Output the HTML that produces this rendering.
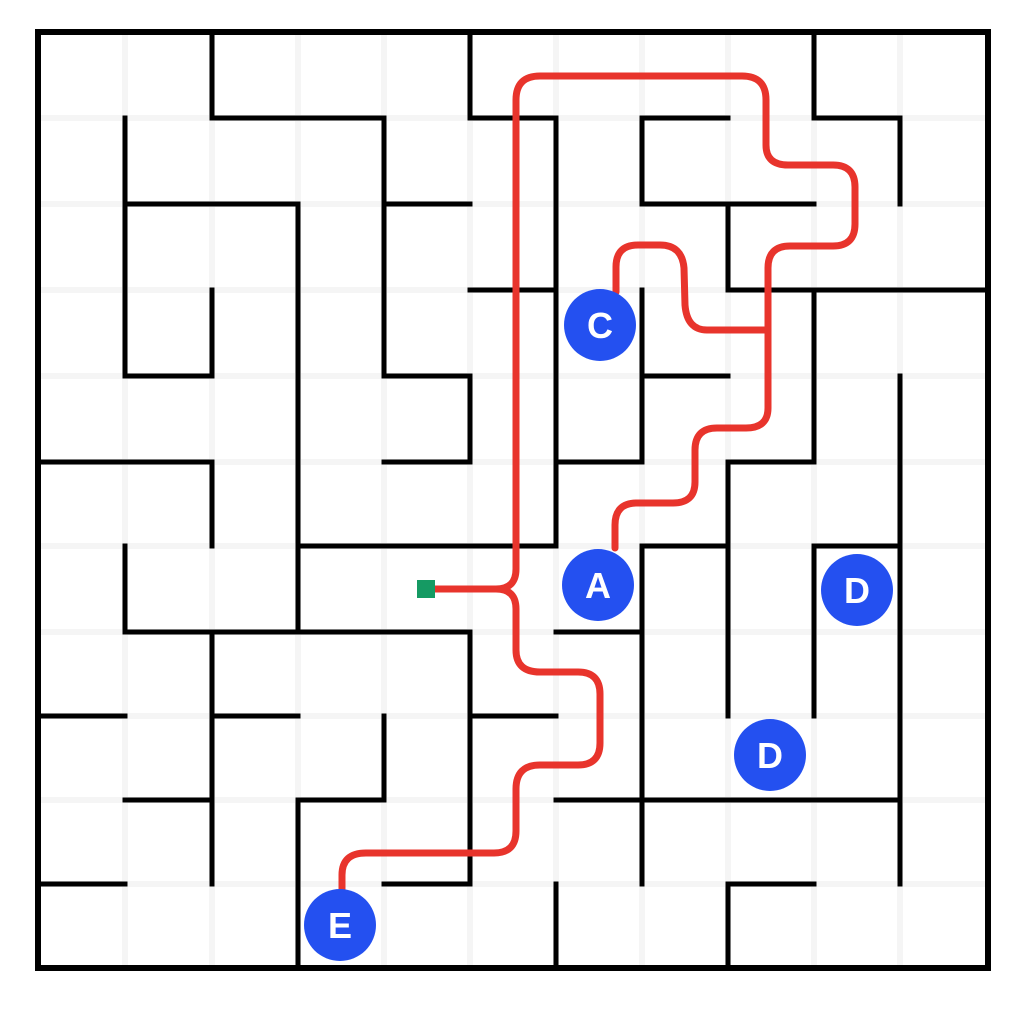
<!DOCTYPE html>
<html><head><meta charset="utf-8"><style>body{margin:0;background:#fff}svg{display:block}</style></head>
<body>
<svg id="maze" width="1024" height="1024" viewBox="0 0 1024 1024" xmlns="http://www.w3.org/2000/svg"></svg>
<script>
const colX=[38,125,212,298,384,470,556,642,728,814,900,988];
const rowY=[32,118,204,290,376,462,546,632,716,800,884,968];
// walls in grid coords: [c1,r1,c2,r2]
const walls=[
[2,0,2,1],[2,1,4,1],[4,1,4,4],[4,2,5,2],[4,4,5,4],[5,4,5,5],[4,5,5,5],
[1,1,1,2],[1,2,3,2],[3,2,3,7],[3,6,6,6],[6,5,6,6],[1,6,1,7],[1,7,5,7],
[1,2,1,4],[1,4,2,4],[2,3,2,4],[0,5,2,5],[2,5,2,6],
[5,0,5,1],[5,1,6,1],[6,1,6,6],[5,3,6,3],[6,5,7,5],
[7,1,7,2],[7,1,8,1],[7,2,9,2],[8,2,8,3],[8,3,11,3],
[9,0,9,1],[9,1,10,1],[10,1,10,2],
[7,3,7,5],[7,4,8,4],[9,3,9,5],[8,5,9,5],[8,5,8,8],
[10,4,10,10],[7,6,8,6],[7,6,7,9],[6,7,7,7],[9,6,10,6],[9,6,9,8],
[6,9,10,9],[6,10,6,11],[7,9,7,10],[8,10,9,10],[8,10,8,11],
[2,7,2,10],[2,8,3,8],[0,8,1,8],[1,9,2,9],[0,10,1,10],
[4,8,4,9],[3,9,4,9],[3,9,3,11],[5,7,5,10],[5,8,6,8],[4,10,5,10]
];
const markers=[["C",600,325],["A",598,585],["D",857,590],["D",770,755],["E",340,925]];
const NS="http://www.w3.org/2000/svg";
const svg=document.getElementById('maze');
function mk(t,a){const e=document.createElementNS(NS,t);for(const k in a)e.setAttribute(k,a[k]);svg.appendChild(e);return e;}
for(let i=1;i<11;i++){
 const g1=mk('line',{x1:colX[i],y1:32,x2:colX[i],y2:968,stroke:'#f5f5f5','stroke-width':6});
 
 
 const g2=mk('line',{x1:38,y1:rowY[i],x2:988,y2:rowY[i],stroke:'#f5f5f5','stroke-width':6});
 
 
}
const b=mk('rect',{x:38,y:32,width:950,height:936,fill:'none',stroke:'#000','stroke-width':6});


walls.forEach(w=>{
 const l=mk('line',{x1:colX[w[0]],y1:rowY[w[1]],x2:colX[w[2]],y2:rowY[w[3]],stroke:'#000','stroke-width':5,'stroke-linecap':'square'});
 
 
});
const paths=[
"M435,589 L496,589 Q516,589 516,569 L516,100 Q516,76 540,76 L742,76 Q766,76 766,100 L766,145 Q766,165 788,165 L833,165 Q855,165 855,187 L855,224 Q855,246 833,246 L790,246 Q768,246 768,268 L768,408 Q768,428 746,428 L717,428 Q695,428 695,450 L695,482 Q695,503 673,503 L637,503 Q615,503 615,525 L615,548",
"M768,330 L707,330 Q687,330 685,305 L684,268 Q682,245 660,245 L638,245 Q616,245 616,267 L616,292",
"M496,589 Q516,589 516,609 L516,650 Q516,672 540,672 L578,672 Q600,672 600,694 L600,743 Q600,765 578,765 L540,765 Q516,765 516,789 L516,831 Q516,853 494,853 L366,853 Q342,853 342,875 L342,892"
];
paths.forEach(d=>{
 const p=mk('path',{d:d,fill:'none',stroke:'#e8342c','stroke-width':7,'stroke-linejoin':'round','stroke-linecap':'round'});
 
 
});
const s=mk('rect',{x:417,y:580,width:18,height:18,fill:'#159a63'});


markers.forEach(m=>{
 const c=mk('circle',{cx:m[1],cy:m[2],r:36,fill:'#2450f0'});
 
 
 const t=mk('text',{x:m[1],y:m[2]+13,'text-anchor':'middle','font-family':'Liberation Sans, sans-serif','font-weight':'bold','font-size':36,fill:'#fff'});
 t.textContent=m[0];
 
 
});
</script>
</body></html>
